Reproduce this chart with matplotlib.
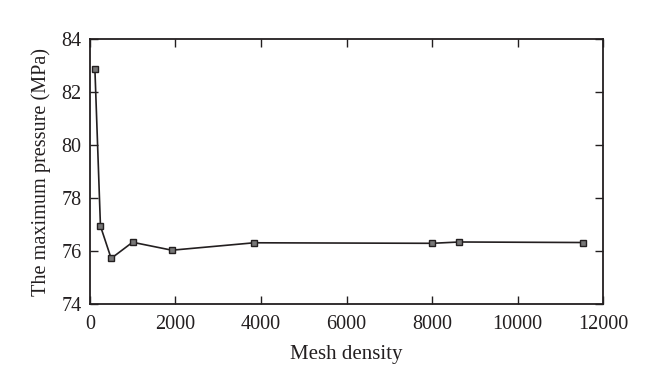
import matplotlib
matplotlib.use("Agg")
import matplotlib.pyplot as plt

mesh_density = [120, 250, 500, 1000, 1920, 3840, 8000, 8640, 11520]
max_pressure = [82.87, 76.94, 75.72, 76.33, 76.03, 76.31, 76.29, 76.34, 76.32]

x_ticks = [0, 2000, 4000, 6000, 8000, 10000, 12000]
y_ticks = [74, 76, 78, 80, 82, 84]

plt.rcParams['font.family'] = ['Liberation Serif', 'DejaVu Serif']
col = '#231f20'

fig = plt.figure(figsize=(6.6, 3.92), dpi=100)
ax = fig.add_axes([0.136, 0.2245, 0.778, 0.676])
ax.plot(mesh_density, max_pressure, color=col, lw=1.2, marker='s', markersize=4,
        markerfacecolor='#777777', markeredgecolor=col, markeredgewidth=1.0)
ax.set_xlim(0, 12000)
ax.set_ylim(74, 84)
ax.set_xticks(x_ticks)
ax.set_yticks(y_ticks)
ax.tick_params(direction='in', top=True, right=True, length=6, width=1.0,
               labelsize=14.5, colors=col)
ax.tick_params(axis='x', pad=8)
ax.tick_params(axis='y', pad=6)
for s in ax.spines.values():
    s.set_linewidth(1.3)
    s.set_color(col)
ax.set_xlabel('Mesh density', fontsize=15, color=col, labelpad=8)
ax.set_ylabel('The maximum pressure (MPa)', fontsize=14.6, color=col, labelpad=7)
fig.savefig('out.png', dpi=100, facecolor='white')
